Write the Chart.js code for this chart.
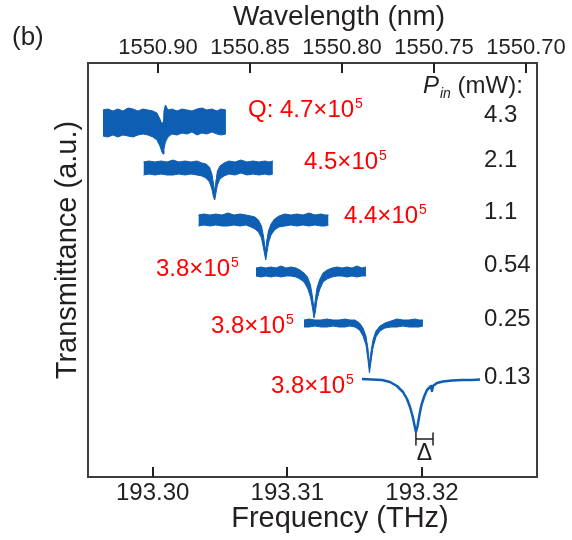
<!DOCTYPE html>
<html lang="en">
<head>
<meta charset="UTF-8">
<title>Transmission spectra vs. input power</title>
<script src="https://cdn.jsdelivr.net/npm/chart.js"></script>
<style>
  html, body { margin: 0; padding: 0; background: #fff; }
  canvas { display: block; }
</style>
</head>
<body>
<canvas id="spectraChart" width="572" height="540"></canvas>
<script>
// input power (mW) and loaded Q of each trace, top to bottom
const pinValues = ['4.3', '2.1', '1.1', '0.54', '0.25', '0.13'];
const qValues = ['4.7', '4.5', '4.4', '3.8', '3.8', '3.8'];
const qExponent = '5';

const freqTicks = [193.30, 193.31, 193.32];
const wavelengthTicks = [1550.90, 1550.85, 1550.80, 1550.75, 1550.70];

// noisy traces: frequency (THz) with upper / lower edge of the noise band (a.u.)
const freq1 = [193.29631, 193.29668, 193.29705, 193.29742, 193.29779, 193.29817, 193.29854, 193.29891, 193.29928, 193.29965,
  193.30002, 193.30032, 193.30054, 193.30069, 193.30077, 193.30084, 193.30095, 193.30114, 193.30143, 193.30181,
  193.30218, 193.30255, 193.30292, 193.30329, 193.30366, 193.30403, 193.30440, 193.30478, 193.30507, 193.30544];
const upper1 = [3.67, 3.68, 3.66, 3.68, 3.66, 3.69, 3.68, 3.66, 3.68, 3.67, 3.66, 3.64, 3.58, 3.53, 3.55,
  3.66, 3.72, 3.67, 3.68, 3.66, 3.68, 3.67, 3.66, 3.68, 3.69, 3.67, 3.68, 3.66, 3.68, 3.67];
const lower1 = [3.41, 3.40, 3.42, 3.40, 3.42, 3.41, 3.40, 3.42, 3.43, 3.42, 3.40, 3.37, 3.31, 3.25, 3.23,
  3.28, 3.35, 3.40, 3.43, 3.42, 3.44, 3.43, 3.45, 3.42, 3.44, 3.43, 3.45, 3.43, 3.42, 3.43];

const freq2 = [193.29932, 193.29973, 193.30017, 193.30062, 193.30106, 193.30151, 193.30195, 193.30240, 193.30284, 193.30329,
  193.30366, 193.30396, 193.30422, 193.30440, 193.30452, 193.30461, 193.30470, 193.30481, 193.30500, 193.30530,
  193.30567, 193.30611, 193.30656, 193.30700, 193.30745, 193.30789, 193.30834, 193.30864, 193.30893];
const upper2 = [3.15, 3.16, 3.15, 3.16, 3.15, 3.17, 3.15, 3.16, 3.15, 3.16, 3.14, 3.13, 3.10, 3.03, 2.93,
  2.85, 2.96, 3.06, 3.11, 3.14, 3.16, 3.15, 3.17, 3.15, 3.16, 3.15, 3.16, 3.15, 3.16];
const lower2 = [3.02, 3.03, 3.02, 3.03, 3.02, 3.02, 3.03, 3.02, 3.03, 3.02, 3.01, 2.99, 2.95, 2.88, 2.80,
  2.77, 2.84, 2.92, 2.98, 3.01, 3.03, 3.02, 3.04, 3.02, 3.03, 3.02, 3.03, 3.02, 3.03];

const freq3 = [193.30340, 193.30381, 193.30426, 193.30470, 193.30515, 193.30559, 193.30604, 193.30648, 193.30693, 193.30730,
  193.30760, 193.30786, 193.30808, 193.30823, 193.30834, 193.30840, 193.30847, 193.30860, 193.30879, 193.30905,
  193.30938, 193.30983, 193.31027, 193.31072, 193.31116, 193.31161, 193.31205, 193.31250, 193.31280, 193.31306];
const upper3 = [2.62, 2.63, 2.62, 2.63, 2.62, 2.64, 2.62, 2.63, 2.62, 2.61, 2.60, 2.57, 2.51, 2.41, 2.30,
  2.26, 2.36, 2.46, 2.53, 2.58, 2.61, 2.63, 2.62, 2.63, 2.62, 2.64, 2.62, 2.63, 2.62, 2.62];
const lower3 = [2.51, 2.52, 2.51, 2.52, 2.51, 2.51, 2.52, 2.51, 2.52, 2.50, 2.48, 2.45, 2.39, 2.29, 2.21,
  2.17, 2.23, 2.34, 2.42, 2.47, 2.50, 2.51, 2.52, 2.51, 2.52, 2.51, 2.52, 2.51, 2.51, 2.52];

const freq4 = [193.30767, 193.30804, 193.30841, 193.30879, 193.30916, 193.30953, 193.30990, 193.31027, 193.31064, 193.31094,
  193.31124, 193.31150, 193.31172, 193.31187, 193.31198, 193.31208, 193.31220, 193.31239, 193.31265, 193.31295,
  193.31332, 193.31369, 193.31406, 193.31443, 193.31480, 193.31517, 193.31554, 193.31584];
const upper4 = [2.09, 2.10, 2.09, 2.10, 2.09, 2.11, 2.09, 2.10, 2.09, 2.07, 2.04, 2.00, 1.92, 1.80, 1.68,
  1.77, 1.89, 1.97, 2.04, 2.07, 2.09, 2.10, 2.09, 2.10, 2.09, 2.11, 2.09, 2.10];
const lower4 = [2.01, 2.00, 2.01, 2.00, 2.01, 2.00, 2.01, 2.01, 2.00, 1.98, 1.95, 1.89, 1.80, 1.69, 1.59,
  1.65, 1.77, 1.87, 1.95, 1.98, 2.00, 2.01, 2.01, 2.00, 2.01, 2.00, 2.01, 2.01];

const freq5 = [193.31124, 193.31161, 193.31205, 193.31250, 193.31295, 193.31339, 193.31384, 193.31428, 193.31465, 193.31502,
  193.31536, 193.31562, 193.31584, 193.31599, 193.31610, 193.31621, 193.31636, 193.31658, 193.31688, 193.31725,
  193.31770, 193.31814, 193.31859, 193.31903, 193.31948, 193.31978, 193.32007];
const upper5 = [1.57, 1.58, 1.57, 1.57, 1.58, 1.57, 1.57, 1.58, 1.57, 1.57, 1.54, 1.49, 1.41, 1.28, 1.13,
  1.25, 1.37, 1.46, 1.51, 1.54, 1.56, 1.58, 1.57, 1.57, 1.58, 1.57, 1.57];
const lower5 = [1.50, 1.50, 1.51, 1.50, 1.50, 1.51, 1.50, 1.50, 1.51, 1.50, 1.47, 1.41, 1.32, 1.17, 1.04,
  1.15, 1.29, 1.40, 1.46, 1.49, 1.50, 1.50, 1.51, 1.50, 1.50, 1.50, 1.51];

// lowest power: clean single line
const freq6 = [193.31554, 193.31629, 193.31703, 193.31762, 193.31814, 193.31859, 193.31889, 193.31911, 193.31930, 193.31944,
  193.31955, 193.31967, 193.31981, 193.31996, 193.32015, 193.32037, 193.32067, 193.32074, 193.32082, 193.32111,
  193.32156, 193.32223, 193.32297, 193.32371, 193.32431];
const trans6 = [0.98, 0.975, 0.97, 0.95, 0.91, 0.85, 0.78, 0.70, 0.61, 0.52, 0.45, 0.51, 0.62, 0.72, 0.80,
  0.87, 0.91, 0.86, 0.91, 0.94, 0.955, 0.965, 0.97, 0.97, 0.975];

// linewidth bracket under the last dip
const deltaFreq = [193.31955, 193.32082];
const deltaLevel = [0.44, 0.38, 0.32];

const FONT = "'Liberation Sans', Arial, sans-serif";
const INK = '#231f20';
const BLUE = 'rgb(14, 94, 180)';
const RED = '#ff0000';

Chart.defaults.font.family = FONT;
Chart.defaults.color = INK;

const bands = [
  [freq1, upper1, lower1],
  [freq2, upper2, lower2],
  [freq3, upper3, lower3],
  [freq4, upper4, lower4],
  [freq5, upper5, lower5]
];

const datasets = [];
bands.forEach(([f, hi, lo]) => {
  datasets.push({
    data: f.map((x, i) => ({ x, y: hi[i] })),
    borderColor: BLUE, borderWidth: 1, fill: false
  });
  datasets.push({
    data: f.map((x, i) => ({ x, y: lo[i] })),
    borderColor: BLUE, borderWidth: 1, fill: '-1', backgroundColor: BLUE
  });
});
datasets.push({
  data: freq6.map((x, i) => ({ x, y: trans6[i] })),
  borderColor: BLUE, borderWidth: 2.5, fill: false
});
datasets.push({
  data: [
    { x: deltaFreq[0], y: deltaLevel[0] }, { x: deltaFreq[0], y: deltaLevel[2] },
    { x: deltaFreq[0], y: deltaLevel[1] }, { x: deltaFreq[1], y: deltaLevel[1] },
    { x: deltaFreq[1], y: deltaLevel[0] }, { x: deltaFreq[1], y: deltaLevel[2] }
  ],
  borderColor: INK, borderWidth: 1.5, fill: false
});

function sci(ctx, text, x, y) {
  ctx.font = '24px ' + FONT;
  ctx.fillText(text + '×10', x, y);
  const w = ctx.measureText(text + '×10').width;
  ctx.font = '14px ' + FONT;
  ctx.fillText(qExponent, x + w + 1, y - 9);
}

// frame, inward ticks, titles and labels
const decorations = {
  id: 'decorations',
  afterDraw(chart) {
    const { ctx, chartArea: a, scales } = chart;
    ctx.save();
    ctx.strokeStyle = '#3d3d3d';
    ctx.lineWidth = 2;
    ctx.strokeRect(a.left, a.top, a.right - a.left, a.bottom - a.top);

    ctx.strokeStyle = INK;
    ctx.beginPath();
    scales.x.ticks.forEach(t => {
      const px = Math.round(scales.x.getPixelForValue(t.value));
      ctx.moveTo(px, a.bottom); ctx.lineTo(px, a.bottom - 10);
    });
    scales.x2.ticks.forEach(t => {
      const px = Math.round(scales.x2.getPixelForValue(t.value));
      ctx.moveTo(px, a.top); ctx.lineTo(px, a.top + 10);
    });
    ctx.stroke();

    ctx.fillStyle = INK;
    ctx.textAlign = 'center';
    ctx.textBaseline = 'middle';
    ctx.font = '29px ' + FONT;
    ctx.fillText('Frequency (THz)', 340, 519);
    ctx.font = '28px ' + FONT;
    ctx.fillText('Wavelength (nm)', 339, 17);
    ctx.save();
    ctx.translate(68, 250);
    ctx.rotate(-Math.PI / 2);
    ctx.font = '29px ' + FONT;
    ctx.fillText('Transmittance (a.u.)', 0, 0);
    ctx.restore();

    ctx.textAlign = 'left';
    ctx.font = '26px ' + FONT;
    ctx.fillText('(b)', 12, 38);

    // delta marker
    ctx.textAlign = 'center';
    ctx.font = '23px ' + FONT;
    const dx = (scales.x.getPixelForValue(deltaFreq[0]) + scales.x.getPixelForValue(deltaFreq[1])) / 2;
    ctx.fillText('Δ', dx, scales.y.getPixelForValue(0.23));

    // P_in header and power values
    ctx.textAlign = 'left';
    ctx.textBaseline = 'alphabetic';
    ctx.font = 'italic 24px ' + FONT;
    ctx.fillText('P', 423, 93);
    let x = 423 + ctx.measureText('P').width;
    ctx.font = 'italic 14px ' + FONT;
    ctx.fillText('in', x + 1, 98);
    x += 1 + ctx.measureText('in').width;
    ctx.font = '24px ' + FONT;
    ctx.fillText(' (mW):', x, 93);

    const pinBase = [122, 167, 219, 272, 326, 384];
    pinValues.forEach((v, i) => ctx.fillText(v, 484, pinBase[i]));

    // quality factors
    ctx.fillStyle = RED;
    const qPos = [[248, 117], [304, 169], [344, 223], [156, 276], [211, 333], [271, 393]];
    qValues.forEach((v, i) => sci(ctx, (i === 0 ? 'Q: ' : '') + v, qPos[i][0], qPos[i][1]));
    ctx.restore();
  }
};

new Chart(document.getElementById('spectraChart'), {
  type: 'line',
  data: { datasets },
  options: {
    responsive: false,
    animation: false,
    devicePixelRatio: 1,
    layout: { padding: { left: 88, right: 35, top: 0, bottom: 0 } },
    elements: {
      point: { radius: 0 },
      line: { tension: 0, borderJoinStyle: 'round' }
    },
    plugins: { legend: { display: false }, tooltip: { enabled: false } },
    scales: {
      x: {
        type: 'linear', position: 'bottom',
        min: 193.2952, max: 193.32854,
        afterBuildTicks: s => { s.ticks = freqTicks.map(v => ({ value: v })); },
        afterFit: s => { s.height = 63; },
        grid: { display: false, drawTicks: false },
        border: { display: false },
        ticks: { font: { size: 24 }, color: INK, padding: 2, maxRotation: 0, autoSkip: false,
          callback: v => v.toFixed(2) }
      },
      x2: {
        type: 'linear', position: 'top', reverse: true,
        min: 1550.694, max: 1550.938,
        afterBuildTicks: s => { s.ticks = wavelengthTicks.map(v => ({ value: v })); },
        afterFit: s => { s.height = 63; },
        grid: { display: false, drawTicks: false },
        border: { display: false },
        ticks: { font: { size: 22 }, color: INK, padding: 2, maxRotation: 0, autoSkip: false,
          callback: v => v.toFixed(2) }
      },
      y: { display: false, min: 0, max: 4.14 }
    }
  },
  plugins: [decorations]
});
</script>
</body>
</html>
